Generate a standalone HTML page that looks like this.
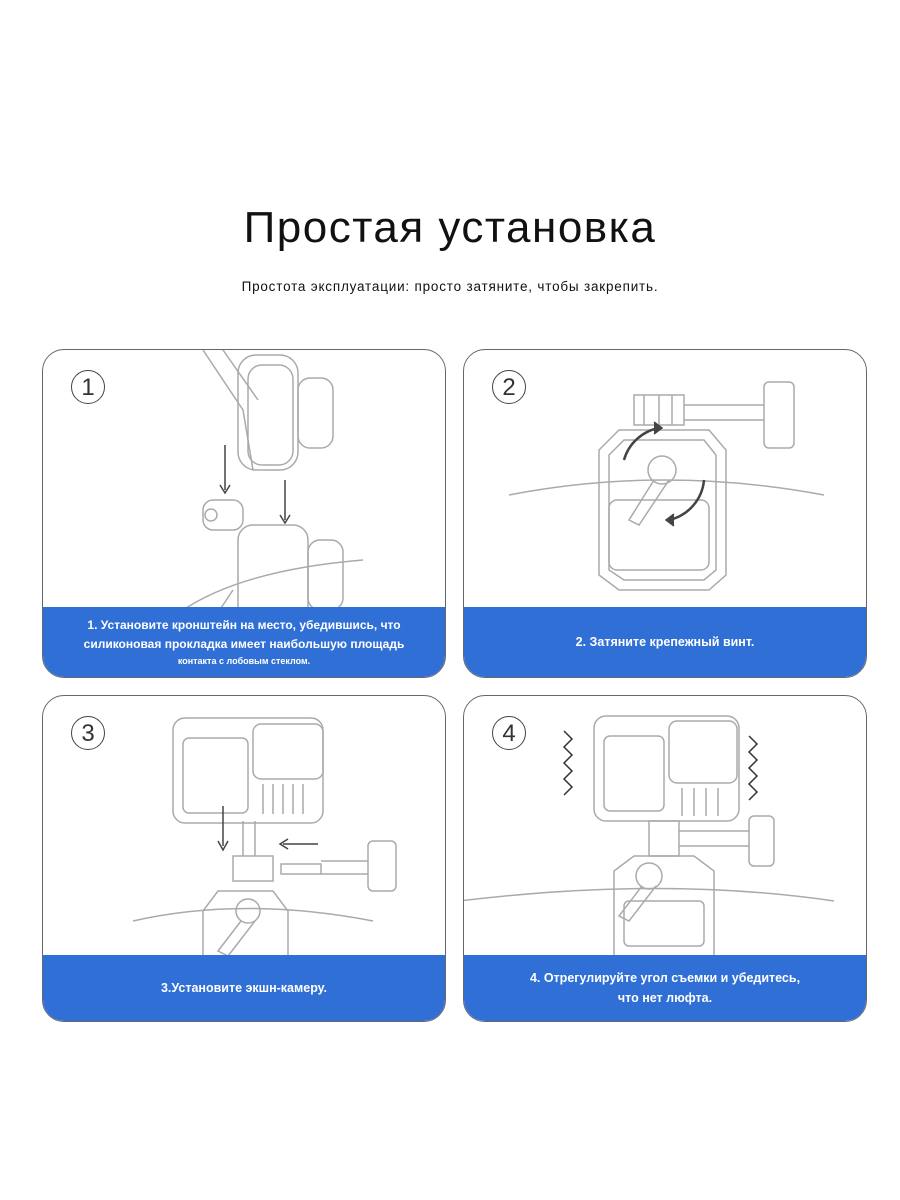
<!DOCTYPE html>
<html><head><meta charset="utf-8"><style>
body{margin:0;width:900px;height:1200px;background:#fff;position:relative;font-family:"Liberation Sans",sans-serif;overflow:hidden}
.t{position:absolute;left:0;width:900px;text-align:center;color:#111}
.card{position:absolute;width:404px;border:1.5px solid #666;border-radius:22px;overflow:hidden;background:#fff;box-sizing:border-box}
.band{position:absolute;left:0;right:0;bottom:0;background:#3070d6;color:#fff;font-weight:bold;font-size:12.5px;text-align:center;display:flex;flex-direction:column;justify-content:center;line-height:20px}
.num{position:absolute;left:28px;top:20px;width:34px;height:34px;border:1.5px solid #444;border-radius:50%;font-size:24px;text-align:center;line-height:34px;color:#333;box-sizing:border-box}
svg{position:absolute;left:0;top:0}
</style></head><body>
<div class="t" style="top:203px;font-size:44px;letter-spacing:1.5px">Простая установка</div>
<div class="t" style="top:279px;font-size:13.5px;letter-spacing:0.8px">Простота эксплуатации: просто затяните, чтобы закрепить.</div>

<div class="card" style="left:42px;top:349px;height:329px">
<svg width="404" height="329" fill="none" stroke="#aaa" stroke-width="1.5">
<path d="M160 0 L200 60 L210 120 M180 0 L215 50"/>
<rect x="195" y="5" width="60" height="115" rx="18"/><rect x="205" y="15" width="45" height="100" rx="14"/>
<rect x="255" y="28" width="35" height="70" rx="12"/>
<path d="M182 95 v45 M242 130 v40" stroke="#444"/><path d="M177 135 l5 8 5-8 M237 165 l5 8 5-8" stroke="#444"/>
<rect x="160" y="150" width="40" height="30" rx="10"/><circle cx="168" cy="165" r="6"/>
<rect x="195" y="175" width="70" height="100" rx="15"/><rect x="265" y="190" width="35" height="70" rx="12"/>
<path d="M140 260 Q200 220 320 210 M150 300 L190 240 M225 260 v60 M240 260 v60"/>
</svg>
<div class="num">1</div>
<div class="band" style="height:70px;font-size:12px;line-height:19px"><div>1. Установите кронштейн на место, убедившись, что</div><div>силиконовая прокладка имеет наибольшую площадь</div><div style="font-size:9px;line-height:14px">контакта с лобовым стеклом.</div></div>
</div>

<div class="card" style="left:463px;top:349px;height:329px">
<svg width="404" height="329" fill="none" stroke="#aaa" stroke-width="1.5">
<path d="M45 145 Q200 115 360 145"/>
<path d="M135 100 L155 80 L245 80 L262 100 L262 225 L245 240 L155 240 L135 225 Z"/>
<path d="M145 105 L160 90 L240 90 L252 105 L252 220 L240 230 L160 230 L145 220 Z"/>
<rect x="145" y="150" width="100" height="70" rx="8"/>
<circle cx="198" cy="120" r="14"/><path d="M190 130 L165 170 L175 175 L205 130"/>
<rect x="170" y="45" width="50" height="30"/><path d="M180 45v30 M195 45v30 M208 45v30 M220 55 h80 M220 70 h80"/>
<rect x="300" y="32" width="30" height="66" rx="5"/>
<path d="M160 110 A45 45 0 0 1 195 78" stroke="#444" stroke-width="2.5"/><path d="M190 72 l8 6 -8 6" fill="#444" stroke="#444"/>
<path d="M240 130 A45 45 0 0 1 205 170" stroke="#444" stroke-width="2.5"/><path d="M210 164 l-8 6 8 6" fill="#444" stroke="#444"/>
</svg>
<div class="num">2</div>
<div class="band" style="height:70px">2. Затяните крепежный винт.</div>
</div>

<div class="card" style="left:42px;top:695px;height:327px">
<svg width="404" height="327" fill="none" stroke="#aaa" stroke-width="1.5">
<path d="M90 225 Q200 200 330 225"/>
<rect x="130" y="22" width="150" height="105" rx="12"/><rect x="140" y="42" width="65" height="75" rx="6"/>
<rect x="210" y="28" width="70" height="55" rx="8"/><path d="M220 88v30 M230 88v30 M240 88v30 M250 88v30 M260 88v30"/>
<path d="M180 110 v40" stroke="#444"/><path d="M175 145 l5 9 5-9" stroke="#444"/>
<path d="M200 125v35 M212 125v35"/><rect x="190" y="160" width="40" height="25"/>
<path d="M275 148 h-35" stroke="#444"/><path d="M245 143 l-8 5 8 5" stroke="#444"/>
<rect x="238" y="168" width="40" height="10"/><rect x="325" y="145" width="28" height="50" rx="5"/><path d="M278 165 h47 M278 178 h47"/>
<path d="M160 215 L175 195 L230 195 L245 215 L245 327 M160 215 V327"/><circle cx="205" cy="215" r="12"/><path d="M198 225 L175 255 L185 260 L212 225"/>
</svg>
<div class="num">3</div>
<div class="band" style="height:66px">3.Установите экшн-камеру.</div>
</div>

<div class="card" style="left:463px;top:695px;height:327px">
<svg width="404" height="327" fill="none" stroke="#aaa" stroke-width="1.5">
<path d="M-5 205 Q200 180 370 205"/>
<rect x="130" y="20" width="145" height="105" rx="12"/><rect x="140" y="40" width="60" height="75" rx="6"/>
<rect x="205" y="25" width="68" height="62" rx="8"/><path d="M218 92v28 M230 92v28 M242 92v28 M254 92v28"/>
<path d="M100 35 l8 8 -8 8 8 8 -8 8 8 8 -8 8 8 8 -8 8" stroke="#333"/><path d="M285 40 l8 8 -8 8 8 8 -8 8 8 8 -8 8 8 8 -8 8" stroke="#333"/>
<rect x="185" y="125" width="30" height="35"/><path d="M215 135 h70 M215 150 h70"/><rect x="285" y="120" width="25" height="50" rx="5"/>
<path d="M150 175 L170 160 L230 160 L250 175 L250 260 L230 285 L170 285 L150 260 Z"/>
<rect x="160" y="205" width="80" height="45" rx="5"/><circle cx="185" cy="180" r="13"/><path d="M178 190 L155 220 L165 225 L192 190"/>
</svg>
<div class="num">4</div>
<div class="band" style="height:66px"><div>4. Отрегулируйте угол съемки и убедитесь,</div><div>что нет люфта.</div></div>
</div>
</body></html>
